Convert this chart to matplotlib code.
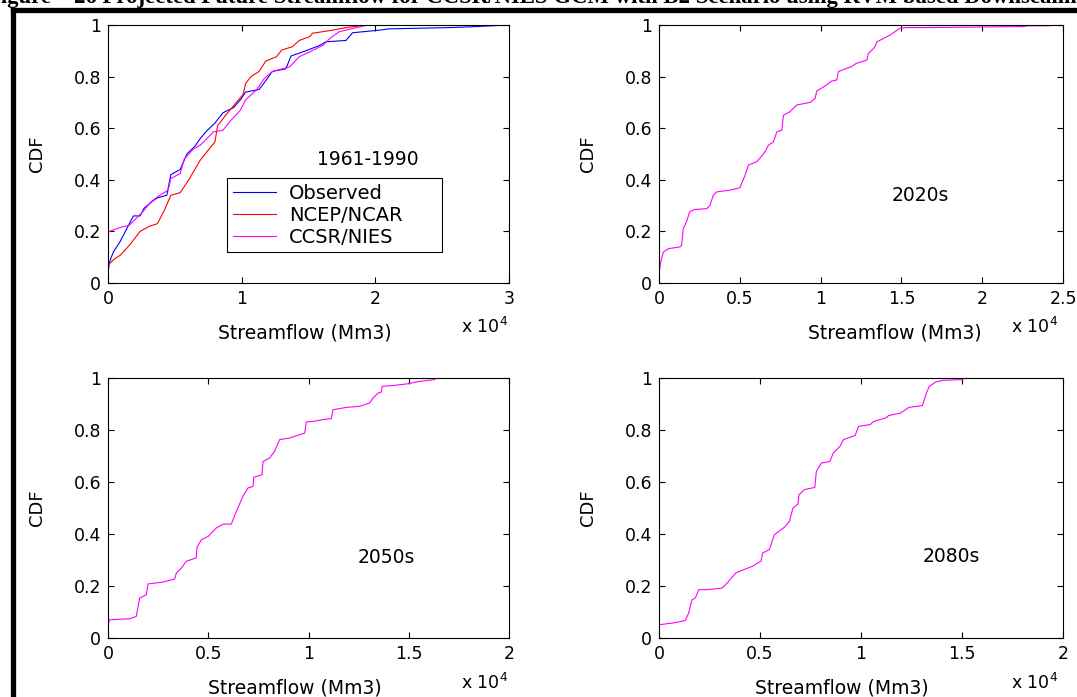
import matplotlib
matplotlib.use("Agg")
import matplotlib.pyplot as plt
from matplotlib.lines import Line2D

plt.rcParams['font.family'] = ['DejaVu Sans']

# ---- data (streamflow x 10^4 Mm3, CDF) ----
obs_x = [0, 0.01, 0.04, 0.09, 0.14, 0.19, 0.24, 0.27, 0.34, 0.37, 0.44, 0.47, 0.54, 0.59,
         0.65, 0.69, 0.74, 0.80, 0.86, 0.94, 0.99, 1.03, 1.13, 1.16, 1.23, 1.33, 1.37, 1.48,
         1.58, 1.63, 1.78, 1.83, 2.03, 2.10, 2.56, 2.76, 2.99]
obs_y = [0.036, 0.08, 0.12, 0.16, 0.21, 0.26, 0.26, 0.29, 0.32, 0.33, 0.34, 0.42, 0.44, 0.50,
         0.53, 0.56, 0.59, 0.62, 0.66, 0.68, 0.71, 0.74, 0.75, 0.77, 0.82, 0.83, 0.88, 0.90,
         0.92, 0.935, 0.94, 0.97, 0.98, 0.985, 0.99, 0.994, 1.0]

ncep_x = [0, 0.05, 0.09, 0.16, 0.24, 0.31, 0.37, 0.42, 0.47, 0.54, 0.61, 0.69, 0.75, 0.80,
          0.82, 0.88, 0.96, 1.01, 1.03, 1.07, 1.13, 1.18, 1.26, 1.30, 1.38, 1.43, 1.51, 1.53,
          1.68, 1.78, 1.93]
ncep_y = [0.07, 0.094, 0.107, 0.146, 0.20, 0.22, 0.23, 0.28, 0.34, 0.35, 0.405, 0.476, 0.515,
          0.547, 0.61, 0.65, 0.70, 0.73, 0.774, 0.80, 0.82, 0.86, 0.877, 0.903, 0.916, 0.94,
          0.955, 0.968, 0.98, 0.99, 1.0]

ccsr_x = [0, 0.09, 0.16, 0.21, 0.26, 0.32, 0.37, 0.45, 0.47, 0.54, 0.57, 0.64, 0.69, 0.79,
          0.86, 0.91, 0.99, 1.03, 1.11, 1.17, 1.23, 1.36, 1.43, 1.51, 1.61, 1.66, 1.73, 1.86, 1.92]
ccsr_y = [0.198, 0.215, 0.224, 0.25, 0.276, 0.314, 0.334, 0.36, 0.405, 0.424, 0.48, 0.52,
          0.534, 0.586, 0.592, 0.625, 0.67, 0.71, 0.748, 0.793, 0.82, 0.838, 0.877, 0.896,
          0.922, 0.948, 0.974, 0.99, 0.997]

f2020_x = [0, 0.01, 0.027, 0.058, 0.13, 0.14, 0.15, 0.17, 0.19, 0.22, 0.295, 0.315, 0.336,
           0.357, 0.44, 0.50, 0.533, 0.553, 0.605, 0.656, 0.677, 0.708, 0.729, 0.76, 0.77,
           0.81, 0.853, 0.935, 0.966, 0.976, 1.018, 1.07, 1.10, 1.11, 1.16, 1.19, 1.22, 1.286,
           1.296, 1.33, 1.35, 1.39, 1.43, 1.49, 1.53, 1.66, 2.26, 2.28, 2.42]
f2020_y = [0.036, 0.08, 0.12, 0.133, 0.14, 0.146, 0.21, 0.237, 0.276, 0.285, 0.288, 0.30,
           0.34, 0.353, 0.36, 0.369, 0.418, 0.457, 0.47, 0.508, 0.534, 0.547, 0.586, 0.592,
           0.65, 0.664, 0.69, 0.70, 0.715, 0.744, 0.76, 0.783, 0.787, 0.819, 0.832, 0.838,
           0.851, 0.864, 0.89, 0.91, 0.935, 0.948, 0.961, 0.987, 0.99, 0.99, 0.994, 0.997, 0.997]

f2050_x = [0, 0.008, 0.108, 0.141, 0.158, 0.175, 0.191, 0.20, 0.274, 0.333, 0.341, 0.366,
           0.39, 0.44, 0.444, 0.466, 0.50, 0.54, 0.574, 0.615, 0.64, 0.673, 0.698, 0.723,
           0.727, 0.768, 0.773, 0.806, 0.831, 0.856, 0.906, 0.956, 0.981, 0.989, 1.022, 1.072,
           1.114, 1.122, 1.189, 1.255, 1.305, 1.322, 1.347, 1.363, 1.368, 1.421, 1.488, 1.554, 1.629]
f2050_y = [0.051, 0.07, 0.074, 0.083, 0.154, 0.16, 0.167, 0.208, 0.215, 0.227, 0.25, 0.269,
           0.295, 0.308, 0.349, 0.378, 0.391, 0.423, 0.438, 0.438, 0.487, 0.545, 0.577, 0.583,
           0.618, 0.628, 0.679, 0.692, 0.718, 0.763, 0.769, 0.782, 0.788, 0.831, 0.833, 0.84,
           0.844, 0.878, 0.887, 0.891, 0.904, 0.923, 0.942, 0.946, 0.968, 0.971, 0.977, 0.987, 0.994]

f2080_x = [0, 0.072, 0.13, 0.147, 0.163, 0.18, 0.197, 0.238, 0.313, 0.338, 0.38, 0.42, 0.463,
           0.488, 0.505, 0.513, 0.546, 0.571, 0.621, 0.646, 0.663, 0.688, 0.693, 0.721, 0.771,
           0.779, 0.804, 0.846, 0.863, 0.896, 0.913, 0.971, 0.988, 1.046, 1.063, 1.121, 1.138,
           1.196, 1.237, 1.304, 1.321, 1.338, 1.371, 1.404, 1.504]
f2080_y = [0.051, 0.058, 0.067, 0.096, 0.147, 0.154, 0.186, 0.186, 0.192, 0.212, 0.25, 0.263,
           0.276, 0.288, 0.295, 0.327, 0.34, 0.397, 0.426, 0.449, 0.50, 0.515, 0.551, 0.571,
           0.579, 0.641, 0.673, 0.679, 0.712, 0.737, 0.763, 0.779, 0.814, 0.821, 0.833, 0.846,
           0.856, 0.865, 0.887, 0.894, 0.936, 0.968, 0.985, 0.991, 0.994]

y_ticks = [0, 0.2, 0.4, 0.6, 0.8, 1]
y_labels = ['0', '0.2', '0.4', '0.6', '0.8', '1']
series_names = ['Observed', 'NCEP/NCAR', 'CCSR/NIES']
period_labels = ['1961-1990', '2020s', '2050s', '2080s']

W, H = 1077, 697
fig = plt.figure(figsize=(W / 100, H / 100), dpi=100)


def px_axes(l, t, r, b):
    return fig.add_axes([l / W, (H - b) / H, (r - l) / W, (b - t) / H])


def style(ax, xmax, xticks, xlabels):
    ax.set_xlim(0, xmax)
    ax.set_ylim(0, 1)
    ax.set_xticks(xticks)
    ax.set_xticklabels(xlabels)
    ax.set_yticks(y_ticks)
    ax.set_yticklabels(y_labels)
    ax.tick_params(direction='in', top=True, right=True, length=4, width=0.8,
                   labelsize=12.5, pad=5)
    for s in ax.spines.values():
        s.set_linewidth(0.8)
    ax.set_ylabel('CDF', fontsize=13, labelpad=20)


ax1 = px_axes(108, 25, 509, 283)
ax2 = px_axes(659, 25, 1063, 283)
ax3 = px_axes(108, 378, 509, 638)
ax4 = px_axes(659, 378, 1063, 638)

ax1.plot(obs_x, obs_y, color='#0000ff', lw=0.8, label=series_names[0])
ax1.plot(ncep_x, ncep_y, color='#ff0000', lw=0.8, label=series_names[1])
ax1.plot(ccsr_x, ccsr_y, color='#ff00ff', lw=0.8, label=series_names[2])
style(ax1, 3, [0, 1, 2, 3], ['0', '1', '2', '3'])
ax1.text(1.94, 0.48, period_labels[0], ha='center', va='center', fontsize=13.5)
ax1.legend(loc='upper left', bbox_to_anchor=(0.297, 0.140, 0.536, 0.267), mode='expand',
           fancybox=False, edgecolor='black', framealpha=1, fontsize=14,
           handlelength=2.2, handletextpad=0.7, labelspacing=0.15, borderpad=0.3,
           borderaxespad=0)
ax1.get_legend().get_frame().set_linewidth(0.8)

ax2.plot(f2020_x, f2020_y, color='#ff00ff', lw=0.8)
style(ax2, 2.5, [0, 0.5, 1, 1.5, 2, 2.5], ['0', '0.5', '1', '1.5', '2', '2.5'])
ax2.text(1.62, 0.34, period_labels[1], ha='center', va='center', fontsize=13.5)

ax3.plot(f2050_x, f2050_y, color='#ff00ff', lw=0.8)
style(ax3, 2, [0, 0.5, 1, 1.5, 2], ['0', '0.5', '1', '1.5', '2'])
ax3.text(1.39, 0.31, period_labels[2], ha='center', va='center', fontsize=13.5)

ax4.plot(f2080_x, f2080_y, color='#ff00ff', lw=0.8)
style(ax4, 2, [0, 0.5, 1, 1.5, 2], ['0', '0.5', '1', '1.5', '2'])
ax4.text(1.445, 0.314, period_labels[3], ha='center', va='center', fontsize=13.5)

# x labels and x10^4 multipliers placed like the MATLAB export
for cx, cy, mx, my in [(305, 333, 485, 327), (895, 333, 1035, 327),
                       (295, 688, 485, 683), (842, 688, 1035, 683)]:
    fig.text(cx / W, 1 - cy / H, 'Streamflow (Mm3)', ha='center', va='center', fontsize=13.5)
    fig.text(mx / W, 1 - my / H, r'x 10$^4$', ha='center', va='center', fontsize=12.5)

# cut-off caption and page border
fig.text(-0.012, 1.003, 'Figure \u2013 26 Projected Future Streamflow for CCSR/NIES GCM with B2 '
         'Scenario using RVM based Downscaling', ha='left', va='center',
         family='Liberation Serif', fontweight='bold', fontsize=16.4)
fig.add_artist(Line2D([12.5 / W, 12.5 / W], [0, 1 - 9.5 / H], color='black', lw=3.8,
                      solid_capstyle='projecting'))
fig.add_artist(Line2D([12.5 / W, 1], [1 - 9.5 / H, 1 - 9.5 / H], color='black', lw=3.8,
                      solid_capstyle='projecting'))

fig.savefig('out.png', dpi=100)
